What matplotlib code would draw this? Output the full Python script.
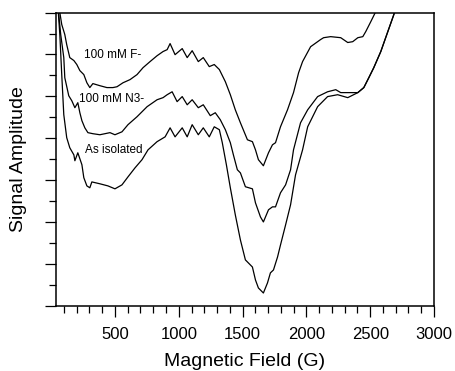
import numpy as np
import matplotlib
matplotlib.use("Agg")
import matplotlib.pyplot as plt
from matplotlib.ticker import MultipleLocator, NullFormatter

plt.rcParams['font.family'] = ['Liberation Sans', 'DejaVu Sans']

# EPR spectra, field in G, amplitude in arbitrary units
field_f = [44, 68, 83, 107, 122, 146, 178, 201, 225, 256, 280, 303, 327, 382, 437, 484, 516,
           563, 618, 673, 720, 775, 830, 877, 909, 932, 971, 1027, 1066, 1105, 1153, 1192,
           1239, 1278, 1318, 1365, 1404, 1443, 1483, 1538, 1577, 1601, 1624, 1663, 1703,
           1734, 1758, 1797, 1852, 1899, 1939, 1970, 2033, 2111, 2135, 2190, 2269, 2324,
           2363, 2403, 2442, 2465, 2505, 2544, 2568]
amp_f = [14.38, 14.0, 13.43, 12.95, 12.47, 11.85, 11.71, 11.52, 11.23, 11.04, 10.65, 10.42,
         10.61, 10.51, 10.42, 10.42, 10.46, 10.65, 10.80, 11.04, 11.37, 11.66, 11.94, 12.14,
         12.23, 12.52, 11.99, 12.28, 11.85, 12.18, 11.66, 11.85, 11.42, 11.52, 11.28, 10.70,
         10.08, 9.36, 8.74, 7.93, 7.84, 7.45, 6.98, 6.69, 7.31, 7.69, 7.79, 8.55, 9.36, 10.18,
         11.13, 11.66, 12.37, 12.71, 12.80, 12.85, 12.80, 12.57, 12.61, 12.80, 12.85, 13.09,
         13.57, 14.05, 14.38]

field_n3 = [52, 75, 99, 107, 138, 162, 186, 209, 225, 241, 264, 288, 327, 382, 461, 500, 555,
            602, 673, 752, 830, 877, 909, 948, 987, 1027, 1066, 1105, 1153, 1192, 1247, 1286,
            1325, 1365, 1404, 1428, 1459, 1483, 1522, 1577, 1601, 1640, 1663, 1703, 1734,
            1758, 1797, 1837, 1876, 1899, 1954, 2010, 2088, 2166, 2230, 2269, 2324, 2403,
            2450, 2489, 2528, 2583, 2638, 2685, 2709]
amp_n3 = [14.38, 12.95, 11.85, 10.89, 10.03, 9.79, 9.46, 9.70, 9.22, 8.84, 8.50, 8.27, 8.22,
          8.17, 8.27, 8.17, 8.31, 8.65, 9.03, 9.51, 9.84, 9.94, 10.08, 10.22, 9.75, 9.99,
          9.60, 9.84, 9.46, 9.60, 9.08, 9.22, 8.89, 8.41, 7.79, 7.21, 6.50, 6.35, 5.69, 5.59,
          4.92, 4.25, 4.01, 4.59, 4.73, 4.73, 5.40, 5.78, 6.50, 7.45, 8.74, 9.36, 9.99, 10.22,
          10.32, 10.18, 10.18, 10.18, 10.42, 10.89, 11.37, 12.14, 13.09, 13.90, 14.38]

field_iso = [52, 68, 83, 99, 122, 146, 178, 186, 209, 241, 256, 280, 303, 319, 382, 445, 500,
             555, 602, 657, 712, 759, 830, 893, 932, 971, 1027, 1066, 1105, 1153, 1192, 1239,
             1278, 1318, 1341, 1373, 1404, 1443, 1483, 1522, 1577, 1601, 1624, 1663, 1695,
             1718, 1742, 1774, 1797, 1837, 1876, 1915, 1970, 2010, 2088, 2166, 2245, 2324,
             2403, 2450, 2489, 2528, 2583, 2638, 2685, 2709]
amp_iso = [14.38, 12.95, 11.04, 9.13, 8.03, 7.55, 7.21, 6.93, 7.31, 6.74, 6.12, 5.73, 5.64,
           5.92, 5.83, 5.73, 5.59, 5.78, 6.16, 6.59, 6.98, 7.45, 7.84, 8.07, 8.50, 8.07, 8.50,
           8.07, 8.65, 8.17, 8.50, 8.07, 8.55, 8.41, 7.79, 6.74, 5.64, 4.35, 3.15, 2.20, 1.86,
           1.24, 0.86, 0.62, 1.10, 1.58, 1.72, 2.34, 2.91, 3.87, 4.83, 6.26, 7.45, 8.55, 9.51,
           9.99, 10.08, 9.94, 10.18, 10.42, 10.89, 11.37, 12.14, 13.09, 13.90, 14.38]

labels = ["100 mM F-", "100 mM N3-", "As isolated"]
label_pos = [(484, 11.99), (476, 9.89), (492, 7.45)]

fig = plt.figure(figsize=(4.56, 3.71), dpi=100)
ax = fig.add_axes([0.1228, 0.1752, 0.829, 0.791])

for x, y in [(field_f, amp_f), (field_n3, amp_n3), (field_iso, amp_iso)]:
    ax.plot(x, y, color='black', lw=0.9)

for txt, (xt, yt) in zip(labels, label_pos):
    ax.text(xt, yt, txt, fontsize=8.5, ha='center', va='center')

ax.set_xlim(38, 3000)
ax.set_ylim(0, 14)
ax.xaxis.set_major_locator(MultipleLocator(500))
ax.xaxis.set_minor_locator(MultipleLocator(100))
ax.yaxis.set_major_locator(MultipleLocator(2))
ax.yaxis.set_minor_locator(MultipleLocator(1))
ax.yaxis.set_major_formatter(NullFormatter())
ax.set_xticks([500, 1000, 1500, 2000, 2500, 3000])
ax.tick_params(which='major', length=8, width=0.9, direction='out', labelsize=12, pad=7)
ax.tick_params(which='minor', length=5, width=0.9, direction='out')
for s in ax.spines.values():
    s.set_linewidth(1.1)

ax.set_xlabel("Magnetic Field (G)", fontsize=14, labelpad=8)
ax.set_ylabel("Signal Amplitude", fontsize=14, labelpad=6)

fig.savefig("out.png", dpi=100)
